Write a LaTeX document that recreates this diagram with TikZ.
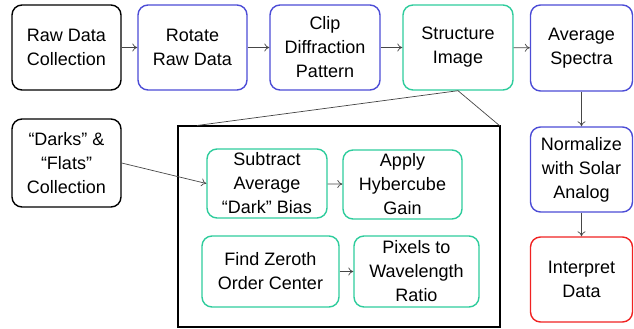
\documentclass[tikz,border=0pt]{standalone}
\usepackage{fontspec}
\setmainfont{Liberation Sans}
\usetikzlibrary{arrows.meta}
\definecolor{flowblue}{RGB}{76,76,214}
\definecolor{flowteal}{RGB}{46,204,156}
\definecolor{flowred}{RGB}{240,34,34}
\definecolor{linkgray}{RGB}{70,70,70}
\begin{document}
\begin{tikzpicture}[x=1pt,y=-1pt,
  box/.style={draw,rounded corners=10pt,line width=1.4pt,align=center,inner sep=0pt,
    font=\fontsize{18}{24}\selectfont},
  link/.style={draw=linkgray,line width=0.7pt,-{To[length=5pt,width=8pt]}}]
\useasboundingbox (0,0) rectangle (634,329);
% top row
\node[box,minimum width=109pt,minimum height=85pt] (raw) at (66.5,47.5) {Raw Data\\Collection};
\node[box,flowblue,text=black,minimum width=109pt,minimum height=85pt] (rotate) at (192.5,47.5) {Rotate\\Raw Data};
\node[box,flowblue,text=black,minimum width=110pt,minimum height=85pt] (clip) at (325,47.5) {Clip\\Diffraction\\Pattern};
\node[box,flowteal,text=black,minimum width=110pt,minimum height=85pt] (struct) at (458,47.5) {Structure\\Image};
\node[box,flowblue,text=black,minimum width=102pt,minimum height=86pt] (avg) at (581.5,48) {Average\\Spectra};
% right column
\node[box,flowblue,text=black,minimum width=102pt,minimum height=85pt] (norm) at (581.5,169.5) {Normalize\\with Solar\\Analog};
\node[box,flowred,text=black,minimum width=102pt,minimum height=85pt] (interp) at (581.5,279.5) {Interpret\\Data};
% darks and flats
\node[box,minimum width=109pt,minimum height=88pt] (darks) at (66.5,163) {“Darks” \&\\“Flats”\\Collection};
% zoomed structure step
\draw[line width=1.4pt] (178,126) rectangle (500,327);		%detail
\coordinate (zl) at (197,125.5);
\coordinate (zr) at (500,126);
\draw[linkgray,line width=0.7pt] (struct.south) -- (zl);
\draw[linkgray,line width=0.7pt] (struct.south) -- (zr);
\node[box,flowteal,text=black,minimum width=120pt,minimum height=69pt] (subtract) at (267,183.5) {Subtract\\Average\\“Dark” Bias};
\node[box,flowteal,text=black,minimum width=119pt,minimum height=69pt] (gain) at (402.5,184.5) {Apply\\Hybercube\\Gain};
\node[box,flowteal,text=black,minimum width=137pt,minimum height=71pt] (zeroth) at (270.5,271.5) {Find Zeroth\\Order Center};
\node[box,flowteal,text=black,minimum width=125pt,minimum height=71pt] (pixels) at (416.5,271.5) {Pixels to\\Wavelength\\Ratio};
% connectors
\draw[link] (raw) -- (rotate);
\draw[link] (rotate) -- (clip);
\draw[link] (clip) -- (struct);
\draw[link] (struct) -- (avg);
\draw[link] (avg) -- (norm);
\draw[link] (norm) -- (interp);
\draw[link] (darks.east) -- (subtract.west);
\draw[link] (subtract) -- (gain);
\draw[link] (zeroth) -- (pixels);
\end{tikzpicture}
\end{document}
